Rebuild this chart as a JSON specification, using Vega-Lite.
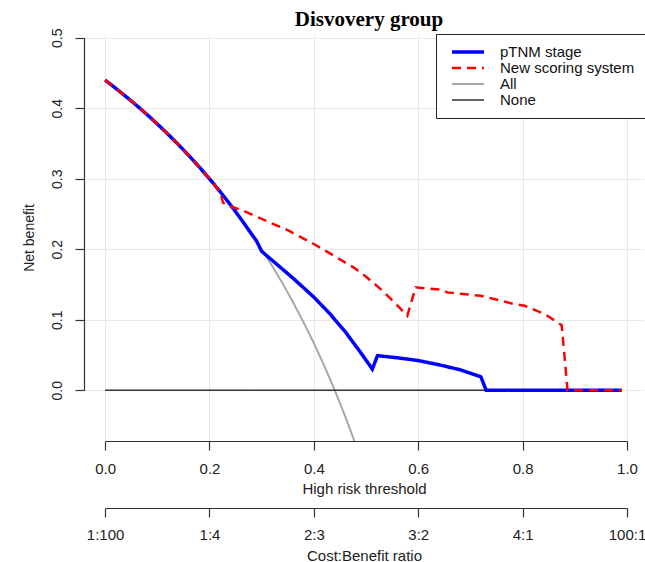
{
  "$schema": "https://vega.github.io/schema/vega-lite/v6.json",
  "autosize": {"type": "none"},
  "padding": {"left": 84, "top": 34, "right": 1, "bottom": 121},
  "width": 560,
  "height": 407,
  "background": "white",
  "title": {"text": "Disvovery group", "font": "Liberation Serif", "fontSize": 21, "fontWeight": "bold", "color": "#000", "anchor": "middle", "frame": "group", "dx": 5, "offset": -2},
  "config": {
    "view": {"stroke": null},
    "axis": {"labelFont": "Liberation Sans", "titleFont": "Liberation Sans", "labelColor": "#222", "titleColor": "#222", "titleFontWeight": "normal"}
  },
  "data": {"values": [
    {"series": "All", "t": 0.00, "nb": 0.44},
    {"series": "All", "t": 0.02, "nb": 0.4286},
    {"series": "All", "t": 0.04, "nb": 0.4167},
    {"series": "All", "t": 0.06, "nb": 0.4043},
    {"series": "All", "t": 0.08, "nb": 0.3913},
    {"series": "All", "t": 0.10, "nb": 0.3778},
    {"series": "All", "t": 0.12, "nb": 0.3636},
    {"series": "All", "t": 0.14, "nb": 0.3488},
    {"series": "All", "t": 0.16, "nb": 0.3333},
    {"series": "All", "t": 0.18, "nb": 0.3171},
    {"series": "All", "t": 0.20, "nb": 0.3000},
    {"series": "All", "t": 0.22, "nb": 0.2821},
    {"series": "All", "t": 0.24, "nb": 0.2632},
    {"series": "All", "t": 0.26, "nb": 0.2432},
    {"series": "All", "t": 0.28, "nb": 0.2222},
    {"series": "All", "t": 0.30, "nb": 0.2000},
    {"series": "All", "t": 0.32, "nb": 0.1765},
    {"series": "All", "t": 0.34, "nb": 0.1515},
    {"series": "All", "t": 0.36, "nb": 0.1250},
    {"series": "All", "t": 0.38, "nb": 0.0968},
    {"series": "All", "t": 0.40, "nb": 0.0667},
    {"series": "All", "t": 0.42, "nb": 0.0345},
    {"series": "All", "t": 0.44, "nb": 0.0},
    {"series": "All", "t": 0.46, "nb": -0.0370},
    {"series": "All", "t": 0.48, "nb": -0.0769},
    {"series": "All", "t": 0.50, "nb": -0.12},
    {"series": "None", "t": 0.00, "nb": 0},
    {"series": "None", "t": 0.99, "nb": 0},
    {"series": "pTNM stage", "t": 0.00, "nb": 0.44},
    {"series": "pTNM stage", "t": 0.02, "nb": 0.4286},
    {"series": "pTNM stage", "t": 0.04, "nb": 0.4167},
    {"series": "pTNM stage", "t": 0.06, "nb": 0.4043},
    {"series": "pTNM stage", "t": 0.08, "nb": 0.3913},
    {"series": "pTNM stage", "t": 0.10, "nb": 0.3778},
    {"series": "pTNM stage", "t": 0.12, "nb": 0.3636},
    {"series": "pTNM stage", "t": 0.14, "nb": 0.3488},
    {"series": "pTNM stage", "t": 0.16, "nb": 0.3333},
    {"series": "pTNM stage", "t": 0.18, "nb": 0.3171},
    {"series": "pTNM stage", "t": 0.20, "nb": 0.3000},
    {"series": "pTNM stage", "t": 0.22, "nb": 0.2821},
    {"series": "pTNM stage", "t": 0.24, "nb": 0.2632},
    {"series": "pTNM stage", "t": 0.26, "nb": 0.2432},
    {"series": "pTNM stage", "t": 0.28, "nb": 0.2222},
    {"series": "pTNM stage", "t": 0.29, "nb": 0.212},
    {"series": "pTNM stage", "t": 0.30, "nb": 0.197},
    {"series": "pTNM stage", "t": 0.33, "nb": 0.178},
    {"series": "pTNM stage", "t": 0.36, "nb": 0.159},
    {"series": "pTNM stage", "t": 0.40, "nb": 0.132},
    {"series": "pTNM stage", "t": 0.43, "nb": 0.109},
    {"series": "pTNM stage", "t": 0.46, "nb": 0.083},
    {"series": "pTNM stage", "t": 0.49, "nb": 0.053},
    {"series": "pTNM stage", "t": 0.512, "nb": 0.030},
    {"series": "pTNM stage", "t": 0.522, "nb": 0.049},
    {"series": "pTNM stage", "t": 0.56, "nb": 0.046},
    {"series": "pTNM stage", "t": 0.60, "nb": 0.042},
    {"series": "pTNM stage", "t": 0.64, "nb": 0.036},
    {"series": "pTNM stage", "t": 0.68, "nb": 0.029},
    {"series": "pTNM stage", "t": 0.72, "nb": 0.019},
    {"series": "pTNM stage", "t": 0.73, "nb": 0.0},
    {"series": "pTNM stage", "t": 0.99, "nb": 0.0},
    {"series": "New scoring system", "t": 0.00, "nb": 0.44},
    {"series": "New scoring system", "t": 0.02, "nb": 0.4286},
    {"series": "New scoring system", "t": 0.04, "nb": 0.4167},
    {"series": "New scoring system", "t": 0.06, "nb": 0.4043},
    {"series": "New scoring system", "t": 0.08, "nb": 0.3913},
    {"series": "New scoring system", "t": 0.10, "nb": 0.3778},
    {"series": "New scoring system", "t": 0.12, "nb": 0.3636},
    {"series": "New scoring system", "t": 0.14, "nb": 0.3488},
    {"series": "New scoring system", "t": 0.16, "nb": 0.3333},
    {"series": "New scoring system", "t": 0.18, "nb": 0.3171},
    {"series": "New scoring system", "t": 0.20, "nb": 0.3000},
    {"series": "New scoring system", "t": 0.22, "nb": 0.2821},
    {"series": "New scoring system", "t": 0.226, "nb": 0.266},
    {"series": "New scoring system", "t": 0.24, "nb": 0.261},
    {"series": "New scoring system", "t": 0.27, "nb": 0.253},
    {"series": "New scoring system", "t": 0.30, "nb": 0.243},
    {"series": "New scoring system", "t": 0.35, "nb": 0.227},
    {"series": "New scoring system", "t": 0.40, "nb": 0.2074},
    {"series": "New scoring system", "t": 0.44, "nb": 0.190},
    {"series": "New scoring system", "t": 0.4765, "nb": 0.174},
    {"series": "New scoring system", "t": 0.50, "nb": 0.161},
    {"series": "New scoring system", "t": 0.528, "nb": 0.1435},
    {"series": "New scoring system", "t": 0.555, "nb": 0.124},
    {"series": "New scoring system", "t": 0.579, "nb": 0.1056},
    {"series": "New scoring system", "t": 0.595, "nb": 0.146},
    {"series": "New scoring system", "t": 0.6435, "nb": 0.1425},
    {"series": "New scoring system", "t": 0.656, "nb": 0.1387},
    {"series": "New scoring system", "t": 0.72, "nb": 0.134},
    {"series": "New scoring system", "t": 0.785, "nb": 0.122},
    {"series": "New scoring system", "t": 0.804, "nb": 0.1198},
    {"series": "New scoring system", "t": 0.8426, "nb": 0.108},
    {"series": "New scoring system", "t": 0.8748, "nb": 0.0923},
    {"series": "New scoring system", "t": 0.886, "nb": 0.0},
    {"series": "New scoring system", "t": 0.99, "nb": 0.0}
  ]},
  "resolve": {"axis": {"x": "independent"}},
  "layer": [
    {
      "transform": [{"filter": "datum.series === 'All'"}],
      "mark": {"type": "line", "clip": true},
      "encoding": {
        "x": {"field": "t", "type": "quantitative", "scale": {"domain": [-0.0404, 1.0325], "nice": false, "zero": false},
          "axis": {"title": "High risk threshold", "values": [0, 0.2, 0.4, 0.6, 0.8, 1], "format": ".1f", "grid": true, "gridColor": "#e8e8e8", "gridWidth": 1,
            "domainDash": [0, 21.1, 522, 2000], "domainColor": "#333", "domainWidth": 1.2, "tickColor": "#333", "tickWidth": 1.2, "tickSize": 9,
            "labelFontSize": 15, "labelPadding": 11, "labelFlush": false, "labelOverlap": false, "titleFontSize": 15, "titlePadding": 5}},
        "y": {"field": "nb", "type": "quantitative", "scale": {"domain": [-0.0721, 0.5054], "nice": false, "zero": false},
          "axis": {"title": "Net benefit", "values": [0, 0.1, 0.2, 0.3, 0.4, 0.5], "format": ".1f", "grid": true, "gridColor": "#e8e8e8", "gridWidth": 1,
            "domainDash": [0, 50.8, 352.4, 2000], "domainColor": "#333", "domainWidth": 1.2, "tickColor": "#333", "tickWidth": 1.2, "tickSize": 9,
            "labelAngle": -90, "labelAlign": "center", "labelBaseline": "bottom", "labelPadding": 11, "labelFontSize": 14, "labelFlush": false, "labelOverlap": false,
            "titleFontSize": 14, "titlePadding": 14}},
        "color": {"field": "series", "type": "nominal",
          "scale": {"domain": ["pTNM stage", "New scoring system", "All", "None"], "range": ["#0000ff", "#ff0000", "#a8a8a8", "#333333"]},
          "legend": {"title": null, "orient": "none", "legendX": 352, "legendY": 0, "padding": 10, "strokeColor": "#222", "fillColor": "#ffffff",
            "symbolType": "stroke", "symbolSize": 1024, "symbolOffset": 4, "labelOffset": 14, "labelFontSize": 15, "labelFont": "Liberation Sans",
            "labelColor": "#111", "rowPadding": 0, "clipHeight": 16, "labelLimit": 300}},
        "strokeDash": {"field": "series", "type": "nominal",
          "scale": {"domain": ["pTNM stage", "New scoring system", "All", "None"], "range": [[1, 0], [9, 6], [1, 0], [1, 0]]}},
        "strokeWidth": {"field": "series", "type": "nominal",
          "scale": {"type": "ordinal", "domain": ["pTNM stage", "New scoring system", "All", "None"], "range": [3.5, 2.5, 2, 1.6]}}
      }
    },
    {
      "transform": [{"filter": "datum.series === 'None'"}],
      "mark": {"type": "line"},
      "encoding": {
        "x": {"field": "t", "type": "quantitative", "scale": {"domain": [-0.0404, 1.0325], "nice": false, "zero": false},
          "axis": {"title": "Cost:Benefit ratio", "orient": "bottom", "offset": 67, "values": [0, 0.2, 0.4, 0.6, 0.8, 1], "grid": false,
            "labelExpr": "datum.value < 0.1 ? '1:100' : datum.value < 0.3 ? '1:4' : datum.value < 0.5 ? '2:3' : datum.value < 0.7 ? '3:2' : datum.value < 0.9 ? '4:1' : '100:1'",
            "domainDash": [0, 21.1, 522, 2000], "domainColor": "#333", "domainWidth": 1.2, "tickColor": "#333", "tickWidth": 1.2, "tickSize": 9,
            "labelFontSize": 15, "labelPadding": 10, "labelFlush": false, "labelOverlap": false, "titleFontSize": 15, "titlePadding": 6}},
        "y": {"field": "nb", "type": "quantitative",
          "axis": {"title": "Net benefit", "values": [0, 0.1, 0.2, 0.3, 0.4, 0.5], "format": ".1f", "grid": true, "gridColor": "#e8e8e8", "gridWidth": 1,
            "domainDash": [0, 50.8, 352.4, 2000], "domainColor": "#333", "domainWidth": 1.2, "tickColor": "#333", "tickWidth": 1.2, "tickSize": 9,
            "labelAngle": -90, "labelAlign": "center", "labelBaseline": "bottom", "labelPadding": 11, "labelFontSize": 14, "labelFlush": false, "labelOverlap": false,
            "titleFontSize": 14, "titlePadding": 14}},
        "color": {"field": "series", "type": "nominal"},
        "strokeDash": {"field": "series", "type": "nominal"},
        "strokeWidth": {"field": "series", "type": "nominal", "scale": {"type": "ordinal"}}
      }
    },
    {
      "transform": [{"filter": "datum.series === 'pTNM stage'"}],
      "mark": {"type": "line"},
      "encoding": {
        "x": {"field": "t", "type": "quantitative", "axis": null},
        "y": {"field": "nb", "type": "quantitative",
          "axis": {"title": "Net benefit", "values": [0, 0.1, 0.2, 0.3, 0.4, 0.5], "format": ".1f", "grid": true, "gridColor": "#e8e8e8", "gridWidth": 1,
            "domainDash": [0, 50.8, 352.4, 2000], "domainColor": "#333", "domainWidth": 1.2, "tickColor": "#333", "tickWidth": 1.2, "tickSize": 9,
            "labelAngle": -90, "labelAlign": "center", "labelBaseline": "bottom", "labelPadding": 11, "labelFontSize": 14, "labelFlush": false, "labelOverlap": false,
            "titleFontSize": 14, "titlePadding": 14}},
        "color": {"field": "series", "type": "nominal"},
        "strokeDash": {"field": "series", "type": "nominal"},
        "strokeWidth": {"field": "series", "type": "nominal", "scale": {"type": "ordinal"}}
      }
    },
    {
      "transform": [{"filter": "datum.series === 'New scoring system'"}],
      "mark": {"type": "line"},
      "encoding": {
        "x": {"field": "t", "type": "quantitative", "axis": null},
        "y": {"field": "nb", "type": "quantitative",
          "axis": {"title": "Net benefit", "values": [0, 0.1, 0.2, 0.3, 0.4, 0.5], "format": ".1f", "grid": true, "gridColor": "#e8e8e8", "gridWidth": 1,
            "domainDash": [0, 50.8, 352.4, 2000], "domainColor": "#333", "domainWidth": 1.2, "tickColor": "#333", "tickWidth": 1.2, "tickSize": 9,
            "labelAngle": -90, "labelAlign": "center", "labelBaseline": "bottom", "labelPadding": 11, "labelFontSize": 14, "labelFlush": false, "labelOverlap": false,
            "titleFontSize": 14, "titlePadding": 14}},
        "color": {"field": "series", "type": "nominal"},
        "strokeDash": {"field": "series", "type": "nominal"},
        "strokeWidth": {"field": "series", "type": "nominal", "scale": {"type": "ordinal"}}
      }
    }
  ]
}
